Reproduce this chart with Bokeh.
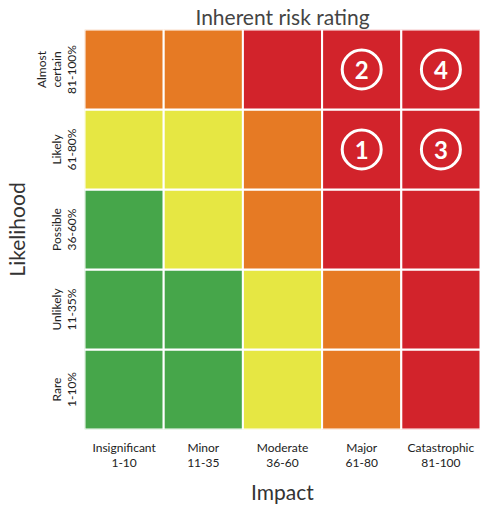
from bokeh.plotting import figure
from bokeh.models import ColumnDataSource, FactorRange
from bokeh.embed import file_html
from bokeh.resources import INLINE
from bokeh.core.properties import value

impacts = ["Insignificant\n1-10", "Minor\n11-35", "Moderate\n36-60", "Major\n61-80", "Catastrophic\n81-100"]
likelihoods = ["Rare\n1-10%", "Unlikely\n11-35%", "Possible\n36-60%", "Likely\n61-80%", "Almost\ncertain\n81-100%"]

# rating per likelihood row (bottom -> top), per impact column (left -> right)
ratings = [
    ["low", "low", "medium", "high", "extreme"],          # Rare
    ["low", "low", "medium", "high", "extreme"],          # Unlikely
    ["low", "medium", "high", "extreme", "extreme"],      # Possible
    ["medium", "medium", "high", "extreme", "extreme"],   # Likely
    ["high", "high", "extreme", "extreme", "extreme"],    # Almost certain
]
rating_colors = {"low": "#46A64A", "medium": "#E6E743", "high": "#E67A24", "extreme": "#D2232B"}

risk_ids = ["1", "2", "3", "4"]
risk_impact = ["Major\n61-80", "Major\n61-80", "Catastrophic\n81-100", "Catastrophic\n81-100"]
risk_likelihood = ["Likely\n61-80%", "Almost\ncertain\n81-100%", "Likely\n61-80%", "Almost\ncertain\n81-100%"]

xs, ys, cs = [], [], []
for i, lk in enumerate(likelihoods):
    for j, im in enumerate(impacts):
        xs.append(im)
        ys.append(lk)
        cs.append(rating_colors[ratings[i][j]])
cells = ColumnDataSource(dict(x=xs, y=ys, c=cs))
risks = ColumnDataSource(dict(x=risk_impact, y=risk_likelihood, t=risk_ids))

FONT = "Lato"

p = figure(frame_width=396, frame_height=400, x_range=FactorRange(*impacts), y_range=FactorRange(*likelihoods),
           output_backend="svg", toolbar_location=None,
           title="Inherent risk rating",
           min_border_left=79, min_border_right=0, min_border_top=23, min_border_bottom=64)

p.rect(x="x", y="y", width=1, height=1, fill_color="c", line_color="white", line_width=2, source=cells)
p.scatter(x="x", y="y", marker="circle", size=39, fill_alpha=0, line_color="white", line_width=3, source=risks)
p.text(x="x", y="y", text="t", text_color="white", text_font=value(FONT), text_font_style="bold",
       text_font_size="24px", text_align="center", text_baseline="middle", source=risks)

p.title.align = "center"
p.title.text_font = FONT
p.title.text_font_style = "normal"
p.title.text_font_size = "21px"
p.title.text_color = "#444444"
p.title.offset = 0
p.title.standoff = 2

p.xaxis.axis_label = "Impact"
p.yaxis.axis_label = "Likelihood"
for ax in (p.xaxis, p.yaxis):
    ax.axis_line_color = None
    ax.major_tick_line_color = None
    ax.minor_tick_line_color = None
    ax.major_tick_out = 0
    ax.major_tick_in = 0
    ax.major_label_text_font = FONT
    ax.major_label_text_font_size = "12px"
    ax.major_label_text_line_height = 1.0
    ax.major_label_text_color = "#222222"
    ax.axis_label_text_font = FONT
    ax.axis_label_text_font_style = "normal"
    ax.axis_label_text_font_size = "21px"
    ax.axis_label_text_color = "#333333"
p.xaxis.major_label_standoff = 10
p.xaxis.axis_label_standoff = 6
p.yaxis.major_label_orientation = "vertical"
p.yaxis.major_label_standoff = 6
p.yaxis.axis_label_standoff = 2

p.xgrid.grid_line_color = None
p.ygrid.grid_line_color = None
p.outline_line_color = None
p.background_fill_color = "white"
p.border_fill_color = "white"

open("out.html", "w").write(file_html(p, INLINE))
